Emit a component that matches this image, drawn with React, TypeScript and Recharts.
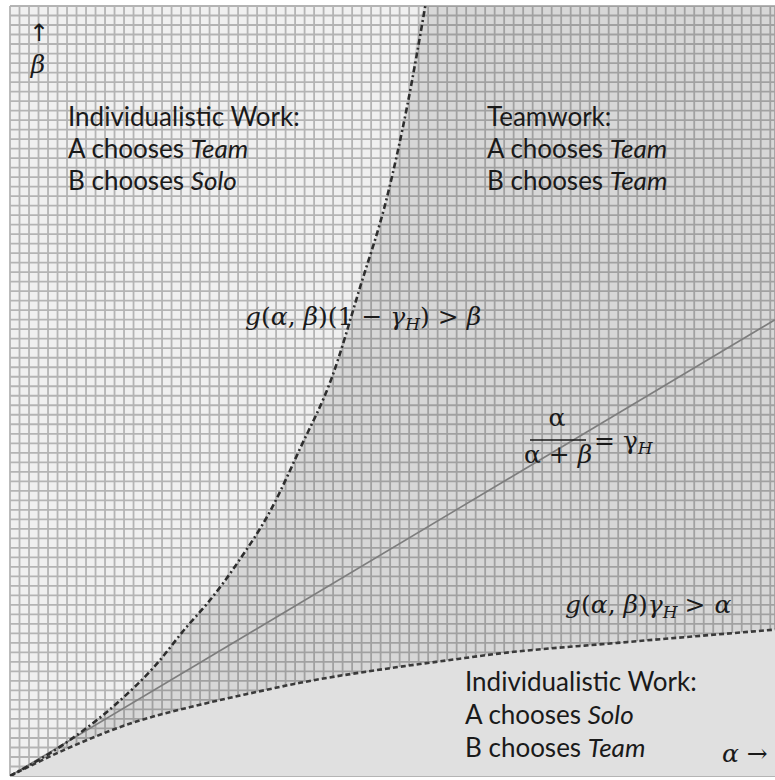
import React from 'react';
import { ComposedChart, Area, Line, XAxis, YAxis, CartesianGrid } from 'recharts';

// Extent of the α–β plane that is shown
const ALPHA_MAX = 80.5;
const BETA_MAX = 81;

// Boundary g(α,β)(1 − γH) = β  (dash-dot curve)
const upperAlpha = [0, 5.6, 11.3, 15.1, 18.6, 20.8, 24.2, 27.4, 30.5, 33.9, 36.8, 39.7, 41.8, 43.7];
const upperBeta = [0, 3.3, 7.7, 11.4, 15.7, 18.2, 22.8, 27.9, 34.4, 42.0, 51.3, 61.0, 70.5, 81];

// Boundary g(α,β)γH = α  (dashed curve)
const lowerAlpha = [0, 5.6, 12.9, 20, 25.3, 30.5, 41.1, 46.3, 51.6, 63.9, 80.5];
const lowerBeta = [0, 2.7, 5.6, 7.5, 8.7, 9.8, 11.5, 12.2, 12.9, 14.0, 15.4];

// α / (α + β) = γH  (solid ray through the origin)
const gammaAlpha = [0, 80.5];
const gammaBeta = [0, 48];

// Graph-paper rulings and edge tick marks
const gridAlpha = Array.from({ length: 81 }, (_, i) => i);
const gridBeta = Array.from({ length: 82 }, (_, i) => i);
const sideTicksBeta = Array.from({ length: 20 }, (_, i) => 1 + i * 4);
const topTicksAlpha = Array.from({ length: 20 }, (_, i) => 2 + i * 4);

const toPoints = (xs: number[], ys: number[]) => xs.map((a, i) => ({ a, b: ys[i] }));

const upperData = toPoints(upperAlpha, upperBeta);
const lowerData = toPoints(lowerAlpha, lowerBeta);
const gammaData = toPoints(gammaAlpha, gammaBeta);
// Everything to the right of / below the dash-dot boundary (closed at the top-right corner)
const teamSide = [...upperData, { a: ALPHA_MAX, b: BETA_MAX }];

const TEXT_FONT = 'Lato, "Open Sans", sans-serif';
const MATH_FONT = '"DejaVu Serif", "Liberation Serif", serif';
const INK = '#1a1a1a';

// tick marks only, no tick text
const NoTickText = () => <g />;

function Labels() {
  const body = { fontFamily: TEXT_FONT, fontSize: 26, fill: INK } as const;
  const math = { fontFamily: MATH_FONT, fontSize: 25, fill: INK } as const;
  const it = 'italic';
  return (
    <svg
      width={775}
      height={780}
      style={{ position: 'absolute', left: 0, top: 0, pointerEvents: 'none' }}
    >
      {/* axis hints */}
      <text x={39} y={41} textAnchor="middle" style={{ ...math, fontFamily: '"DejaVu Sans", sans-serif', fontSize: 24 }}>↑</text>
      <text x={38} y={73} textAnchor="middle" style={{ ...math, fontStyle: it }}>β</text>
      <text x={722} y={762} style={math}>
        <tspan fontStyle={it}>α</tspan> →
      </text>

      {/* region descriptions */}
      <text x={68} y={126} style={body}>Individualistic Work:</text>
      <text x={68} y={158} style={body}>A chooses <tspan fontStyle={it}>Team</tspan></text>
      <text x={68} y={190} style={body}>B chooses <tspan fontStyle={it}>Solo</tspan></text>

      <text x={487} y={126} style={body}>Teamwork:</text>
      <text x={487} y={158} style={body}>A chooses <tspan fontStyle={it}>Team</tspan></text>
      <text x={487} y={190} style={body}>B chooses <tspan fontStyle={it}>Team</tspan></text>

      <text x={465} y={691} style={body}>Individualistic Work:</text>
      <text x={465} y={724} style={body}>A chooses <tspan fontStyle={it}>Solo</tspan></text>
      <text x={465} y={757} style={body}>B chooses <tspan fontStyle={it}>Team</tspan></text>

      {/* boundary conditions */}
      <text x={245} y={325} style={math}>
        <tspan fontStyle={it}>g</tspan>(<tspan fontStyle={it}>α</tspan>, <tspan fontStyle={it}>β</tspan>)(1 − <tspan fontStyle={it}>γ</tspan>
        <tspan fontStyle={it} fontSize={17} dy={5}>H</tspan>
        <tspan dy={-5}>) &gt; </tspan>
        <tspan fontStyle={it}>β</tspan>
      </text>

      <text x={557} y={426} textAnchor="middle" style={math}>α</text>
      <line x1={530} x2={586} y1={440} y2={440} stroke={INK} strokeWidth={1.4} />
      <text x={558} y={463} textAnchor="middle" style={math}>
        α + <tspan fontStyle={it}>β</tspan>
      </text>
      <text x={594} y={449} style={math}>
        = γ<tspan fontStyle={it} fontSize={17} dy={5}>H</tspan>
      </text>

      <text x={565} y={613} style={math}>
        <tspan fontStyle={it}>g</tspan>(<tspan fontStyle={it}>α</tspan>, <tspan fontStyle={it}>β</tspan>)<tspan fontStyle={it}>γ</tspan>
        <tspan fontStyle={it} fontSize={17} dy={5}>H</tspan>
        <tspan dy={-5} dx={7}>&gt;</tspan>
        <tspan dx={9} fontStyle={it}>α</tspan>
      </text>
    </svg>
  );
}

export default function App() {
  return (
    <div style={{ position: 'absolute', left: 0, top: 0, width: 775, height: 780, background: '#ffffff' }}>
      <ComposedChart width={775} height={780} margin={{ top: 6, right: 0, bottom: 4, left: 10 }}>
        <XAxis
          type="number"
          dataKey="a"
          domain={[0, ALPHA_MAX]}
          ticks={gridAlpha}
          interval={0}
          height={0}
          tick={NoTickText}
          axisLine={false}
          tickLine={{ stroke: '#555', strokeWidth: 1.3 }}
          tickSize={4}
          allowDataOverflow
        />
        <XAxis
          xAxisId="top"
          orientation="top"
          type="number"
          dataKey="a"
          domain={[0, ALPHA_MAX]}
          ticks={topTicksAlpha}
          interval={0}
          height={0}
          tick={NoTickText}
          axisLine={{ stroke: '#a0a0a0', strokeWidth: 1.3 }}
          tickLine={{ stroke: '#555', strokeWidth: 1.3 }}
          tickSize={4}
          allowDataOverflow
        />
        <YAxis
          type="number"
          domain={[0, BETA_MAX]}
          ticks={gridBeta}
          interval={0}
          width={0}
          tick={NoTickText}
          tickLine={false}
          axisLine={{ stroke: '#7a7a7a', strokeWidth: 1.6 }}
          allowDataOverflow
        />
        <YAxis
          yAxisId="side"
          type="number"
          domain={[0, BETA_MAX]}
          ticks={sideTicksBeta}
          interval={0}
          width={0}
          tick={NoTickText}
          axisLine={false}
          tickLine={{ stroke: '#555', strokeWidth: 1.3 }}
          tickSize={4}
          allowDataOverflow
        />
        <CartesianGrid fill="#f0f0f0" stroke="#b4b4b4" strokeWidth={1.8} />

        {/* Teamwork and lower region shading */}
        <Area
          data={teamSide}
          dataKey="b"
          type="monotone"
          fill="#000000"
          fillOpacity={0.1}
          stroke="none"
          dot={false}
          activeDot={false}
          isAnimationActive={false}
        />
        <Area
          data={lowerData}
          dataKey="b"
          type="monotone"
          fill="#e0e0e0"
          fillOpacity={1}
          stroke="none"
          dot={false}
          activeDot={false}
          isAnimationActive={false}
        />

        {/* boundaries */}
        <Line
          data={gammaData}
          dataKey="b"
          type="linear"
          stroke="#7d7d7d"
          strokeWidth={1.6}
          dot={false}
          activeDot={false}
          isAnimationActive={false}
        />
        <Line
          data={lowerData}
          dataKey="b"
          type="monotone"
          stroke="#3a3a3a"
          strokeWidth={2.6}
          strokeDasharray="5 3"
          dot={false}
          activeDot={false}
          isAnimationActive={false}
        />
        <Line
          data={upperData}
          dataKey="b"
          type="monotone"
          stroke="#2e2e2e"
          strokeWidth={2.6}
          strokeDasharray="6 3 2 3"
          dot={false}
          activeDot={false}
          isAnimationActive={false}
        />
      </ComposedChart>
      <Labels />
    </div>
  );
}
